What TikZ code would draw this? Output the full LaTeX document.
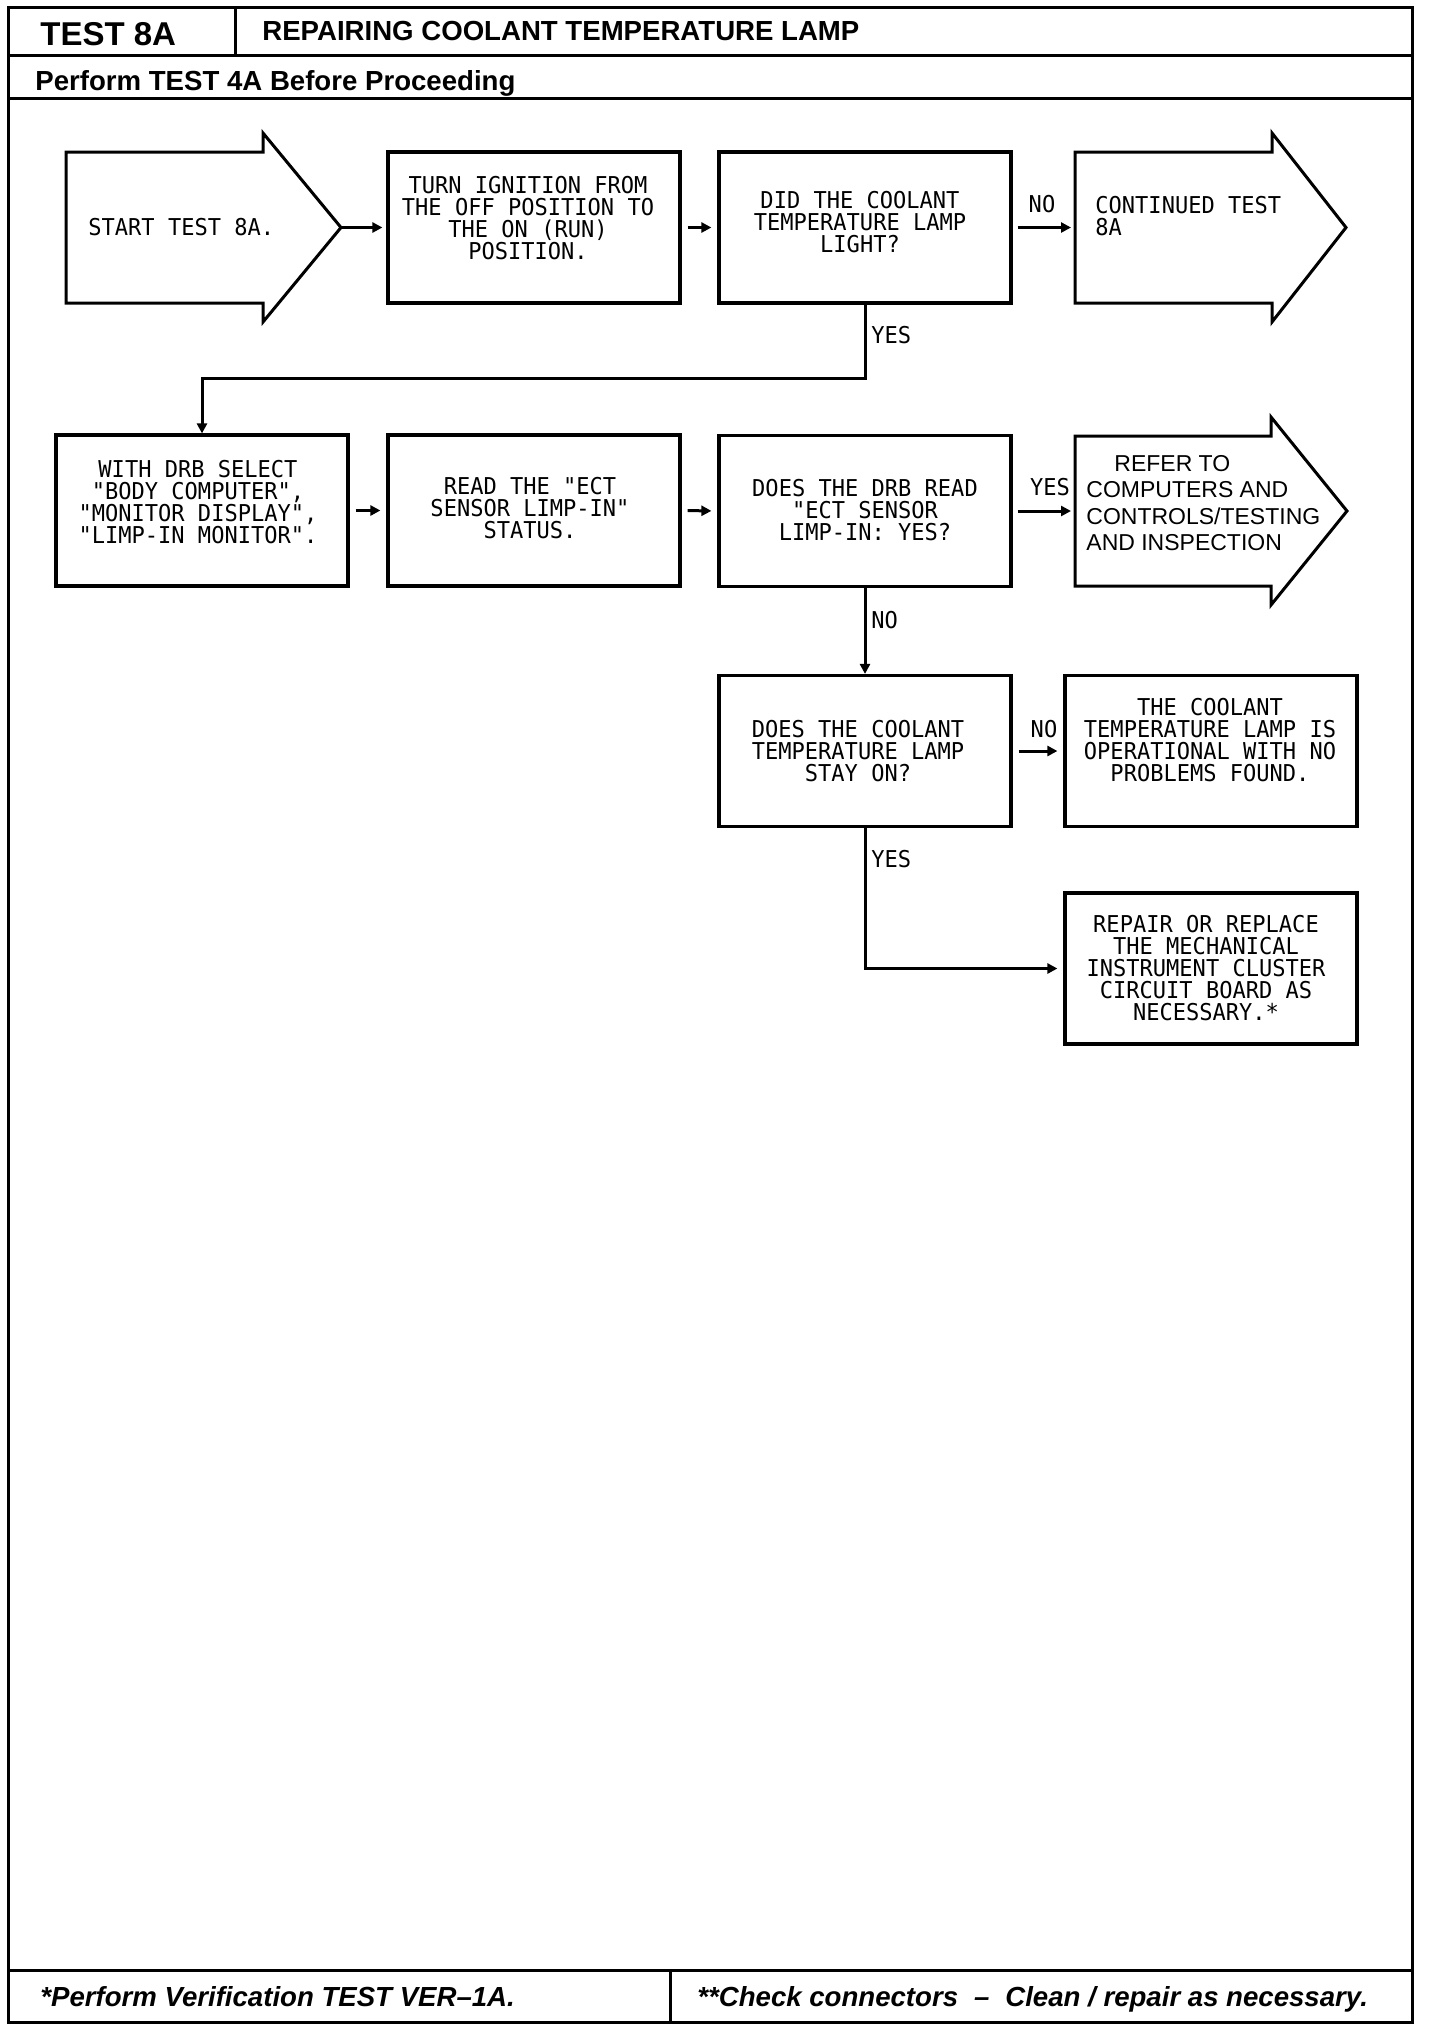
\documentclass[tikz,border=0pt]{standalone}
\usepackage{fontspec}
\setmainfont{Liberation Sans}
\newfontfamily\dotf[FakeStretch=0.95]{DejaVu Sans Mono}
\usetikzlibrary{arrows.meta}
\newcommand\dottext{\dotf\fontsize{11.6pt}{11pt}\selectfont}
\newcommand\refertext{\fontsize{11.5pt}{13.3pt}\selectfont}
\newcommand\titlebig{\bfseries\fontsize{16.5pt}{18pt}\selectfont}
\newcommand\titlemid{\bfseries\fontsize{13.8pt}{16pt}\selectfont}
\newcommand\footfont{\bfseries\itshape\fontsize{13.8pt}{16pt}\selectfont}
\begin{document}
\begin{tikzpicture}[x=0.5pt,y=-0.5pt,
  box/.style={draw,line width=1.6pt,minimum width=146pt,minimum height=75.5pt,inner sep=0pt},
  btext/.style={font=\dottext,align=center,inner sep=0pt},
  lbl/.style={font=\dottext,inner sep=0pt},
  conn/.style={line width=1.5pt,-{Triangle[length=5pt,width=5pt]}},
  bigarrow/.style={draw,line width=1.5pt,line join=miter},
  frame/.style={line width=1.5pt},
  hdr/.style={anchor=base west,inner sep=0pt}]
\useasboundingbox[fill=white] (0,0) rectangle (1440,2030);
% frame
\draw[frame] (8,7) rectangle (1412,2022);
\draw[frame] (8,55) -- (1412,55);
\draw[frame] (235,7) -- (235,55);
\draw[frame] (8,98) -- (1412,98);
\draw[frame] (8,1970) -- (1412,1970);
\draw[frame] (670,1970) -- (670,2022);
% header / footer texts
\node[hdr,font=\titlebig] (hd1) at (40,45) {TEST 8A};
\node[hdr,font=\titlemid] (hd2) at (262,40) {REPAIRING COOLANT TEMPERATURE LAMP};
\node[hdr,font=\titlemid] (hd3) at (35,90) {Perform TEST 4A Before Proceeding};
\node[hdr,font=\footfont] (ft1) at (40,2006) {*Perform Verification TEST VER–1A.};
\node[hdr,font=\footfont] (ft2) at (697,2006) {**Check connectors\hspace{0.3em} – \hspace{0.3em}Clean / repair as necessary.};
% boxes
\node[box] (turn) at (534,227.5) {};
\node[box] (did) at (865,227.5) {};
\node[box] (drb) at (202,510.5) {};
\node[box] (read) at (534,510.5) {};
\node[box] (does) at (865,511) {};
\node[box] (stay) at (865,751) {};
\node[box] (ok) at (1211,751) {};
\node[box] (repair) at (1211,968.5) {};
% box texts
\node[btext] (turn-t) at (528,218) {TURN IGNITION FROM\\THE OFF POSITION TO\\THE ON (RUN)\\POSITION.};
\node[btext] (did-t) at (860,222) {DID THE COOLANT\\TEMPERATURE LAMP\\LIGHT?};
\node[btext] (drb-t) at (198,502) {WITH DRB SELECT\\"BODY COMPUTER",\\"MONITOR DISPLAY",\\"LIMP-IN MONITOR".};
\node[btext] (read-t) at (530,508) {READ THE "ECT\\SENSOR LIMP-IN"\\STATUS.};
\node[btext] (does-t) at (865,510) {DOES THE DRB READ\\"ECT SENSOR\\LIMP-IN: YES?};
\node[btext] (stay-t) at (858,751) {DOES THE COOLANT\\TEMPERATURE LAMP\\STAY ON?};
\node[btext] (ok-t) at (1210,740) {THE COOLANT\\TEMPERATURE LAMP IS\\OPERATIONAL WITH NO\\PROBLEMS FOUND.};
\node[btext] (repair-t) at (1206,968) {REPAIR OR REPLACE\\THE MECHANICAL\\INSTRUMENT CLUSTER\\CIRCUIT BOARD AS\\NECESSARY.*};
% big arrows
\draw[bigarrow] (66,152) -- (263,152) -- (263,133) -- (341,227.5) -- (263,322) -- (263,303) -- (66,303) -- cycle;
\coordinate (starttip) at (341,227.5);
\node[lbl,anchor=west] (start-t) at (88,227.5) {START TEST 8A.};
\draw[bigarrow] (1075,152) -- (1272,152) -- (1272,133) -- (1346,227.5) -- (1272,322) -- (1272,303) -- (1075,303) -- cycle;
\coordinate (contin) at (1075,227.5);
\node[lbl,anchor=west,align=left] (cont-t) at (1095,216) {CONTINUED TEST\\8A};
\draw[bigarrow] (1075,436) -- (1271,436) -- (1271,417) -- (1347,511) -- (1271,605) -- (1271,586) -- (1075,586) -- cycle;
\coordinate (referin) at (1075,511);
\node[font=\refertext,align=left,anchor=west,inner sep=0pt] (refer-t) at (1086,503) {\hspace*{14pt}REFER TO\\COMPUTERS AND\\CONTROLS/TESTING\\AND INSPECTION};
% connectors
\draw[conn,shorten >=2pt] (starttip) -- (turn.west);
\draw[conn,shorten <=3pt,shorten >=3pt] (turn.east) -- (did.west);
\draw[conn,shorten <=2.5pt,shorten >=2pt] (did.east) -- (contin);
\draw[conn] (did.south) -- ++(0,74) -| (drb.north);
\draw[conn,shorten <=3pt,shorten >=3pt] (drb.east) -- (read.west);
\draw[conn,shorten <=3pt,shorten >=3pt] (read.east) -- (does.west);
\draw[conn,shorten <=2.5pt,shorten >=2pt] (does.east) -- (referin);
\draw[conn] (does.south) -- (stay.north);
\draw[conn,shorten <=3pt,shorten >=3pt] (stay.east) -- (ok.west);
\draw[conn,shorten >=3pt] (stay.south) |- (repair.west);
% labels
\node[lbl] (no1) at (1042,204) {NO};
\node[lbl,anchor=west] (yes1) at (871,335) {YES};
\node[lbl] (yes2) at (1050,487) {YES};
\node[lbl,anchor=west] (no2) at (871,620) {NO};
\node[lbl] (no3) at (1044,729) {NO};
\node[lbl,anchor=west] (yes3) at (871,859) {YES};
\end{tikzpicture}
\end{document}
